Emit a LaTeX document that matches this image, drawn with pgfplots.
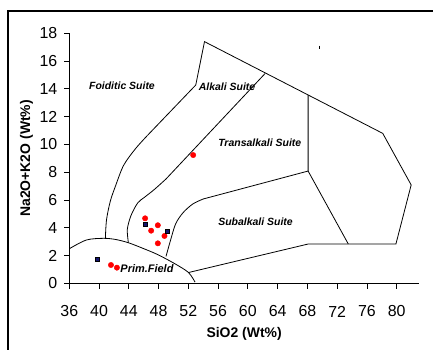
\documentclass[border=0pt]{standalone}
\usepackage{fontspec}
\setmainfont{Liberation Sans}
\usepackage{pgfplots}
\pgfplotsset{compat=1.18}
\begin{document}
\begin{tikzpicture}
\useasboundingbox (-69.3bp,-66.5bp) rectangle (363.7bp,283.5bp);
\draw[line width=2bp] (-61bp,-66.5bp) -- (-61bp,272.5bp);
\draw[line width=2bp] (-62bp,272.5bp) -- (363.7bp,272.5bp);
\begin{axis}[
  at={(0,0)}, anchor=south west,
  x=7.44bp, y=13.9bp,
  xmin=36, xmax=83, ymin=0, ymax=18,
  enlargelimits=false,
  axis lines=left,
  axis line style={-, line width=0.8bp},
  xtick={36,40,...,80}, ytick={0,2,...,18},
  tick align=outside, major tick length=5bp,
  tick style={black, line width=0.8bp},
  /pgf/number format/assume math mode=true,
  xticklabel style={font=\fontsize{16}{16}\selectfont, anchor=center, yshift=-23bp},
  yticklabel style={font=\fontsize{16}{16}\selectfont, anchor=east, inner sep=0pt, xshift=-6.8bp},
  xlabel={SiO2 (Wt\%)},
  ylabel={Na2O+K2O (Wt\%)},
  xlabel style={at={(axis description cs:0.5,-0.203)}, anchor=center, font=\fontsize{14}{14}\selectfont\bfseries},
  ylabel style={at={(axis description cs:-0.1224,0.5)}, anchor=center, font=\fontsize{14}{14}\selectfont\bfseries},
  clip=false,
]
% Prim. Field boundary
\addplot[black, line width=0.8bp, smooth] coordinates {
 (36.0,2.50) (38.3,3.13) (40.6,3.25) (42.2,3.17) (43.9,2.94) (45.8,2.55) (47.8,2.10) (50.1,1.45) (52.0,0.80) (52.9,0.10)};
% Foiditic / Alkali boundary
\addplot[black, line width=0.8bp, smooth] coordinates {
 (40.85,3.25) (41.0,4.57) (41.5,5.9) (42.2,7.0) (43.3,8.5) (44.9,9.7) (46.5,10.65)};
\addplot[black, line width=0.8bp] coordinates {
 (46.5,10.65) (53.0,14.28) (54.17,17.4) (78.13,10.8) (81.95,7.09) (79.9,2.84) (68.1,2.84) (52.1,0.80)};
% Alkali / Transalkali boundary
\addplot[black, line width=0.8bp] coordinates {(62.34,15.12) (49.0,7.52)};
\addplot[black, line width=0.8bp, smooth] coordinates {
 (49.0,7.52) (47.4,6.75) (46.1,6.2) (45.2,5.8) (44.3,4.9) (43.8,3.9) (43.94,2.94)};
% Transalkali / Subalkali boundary
\addplot[black, line width=0.8bp] coordinates {(68.1,13.56) (68.1,8.09) (54.0,6.08)};
\addplot[black, line width=0.8bp, smooth] coordinates {
 (54.0,6.08) (52.6,5.72) (51.3,5.1) (50.3,4.3) (49.6,3.1) (49.0,1.95)};
\addplot[black, line width=0.8bp] coordinates {(68.1,8.09) (73.5,2.84)};
% samples
\addplot[only marks, mark=*, mark size=2.7bp, color=red] coordinates {
 (52.65,9.24) (46.19,4.69) (47.9,4.19) (47.0,3.80) (48.79,3.42) (47.9,2.89) (41.6,1.33) (42.4,1.14)};
\addplot[only marks, mark=square*, mark size=2bp, draw=black, fill={rgb,255:red,20;green,20;blue,110}] coordinates {
 (46.19,4.26) (49.1,3.78) (39.8,1.74)};
\addplot[only marks, mark=|, mark size=1.5bp, black] coordinates {(69.6,17.0)};
% field names
\begin{scope}[every node/.style={font=\fontsize{10.5}{10.5}\selectfont\bfseries\itshape}]
\node at (axis cs:43.08,14.2) {Foiditic Suite};
\node at (axis cs:57.2,14.18) {Alkali Suite};
\node at (axis cs:61.6,10.16) {Transalkali Suite};
\node at (axis cs:61.03,4.45) {Subalkali Suite};
\node[font=\fontsize{11}{11}\selectfont\bfseries\itshape] at (axis cs:46.44,1.09) {Prim.Field};
\end{scope}
\end{axis}
\end{tikzpicture}
\end{document}
